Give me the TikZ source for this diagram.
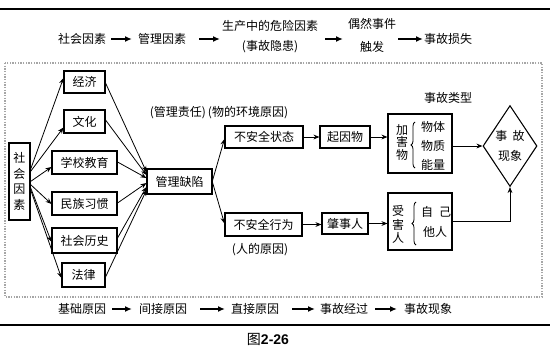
\documentclass[tikz,border=0pt]{standalone}
\usepackage{fontspec}
\setmainfont{Noto Sans CJK SC}
\newfontfamily\capfont{Liberation Sans}
\usetikzlibrary{arrows.meta,calc,shapes.geometric,decorations.pathreplacing}
\newlength\upx
\setlength\upx{0.75pt}
\begin{document}
\begin{tikzpicture}[x=0.75pt,y=-0.75pt,
  every node/.style={inner sep=0pt, font=\fontsize{9}{11}\selectfont},
  box/.style={draw, line width=0.8pt, align=center},
  arr/.style={-{Stealth[length=4.5pt,width=3.6pt]}, line width=0.6pt},
  flow/.style={-{Latex[length=5pt,width=4.5pt]}, line width=0.9pt},
  rule/.style={line width=0.8pt},
  brc/.style={decorate, decoration={brace, amplitude=3pt}, line width=0.6pt}]
\useasboundingbox (0,0) rectangle (550,350);
% rules and frame
\draw[rule] (0,9) -- (550,9);
\draw[rule] (0,325) -- (550,325);
\draw[gray!70, densely dotted, line width=1pt] (5,63) rectangle (542,297);
% top row
\node (t1) at (82,39) {社会因素};
\node (t2) at (162,39) {管理因素};
\node[align=center, font=\fontsize{9}{15}\selectfont] (t3) at (270,37) {生产中的危险因素\\(事故隐患)};
\node[align=center, font=\fontsize{9}{17}\selectfont] (t4) at (372,35.5) {偶然事件\\触发};
\node (t5) at (448,39) {事故损失};
\draw[flow] ($(t1.east)+(5,0)$) -- ($(t2.west)+(-6,0)$);
\draw[flow] ($(t2.east)+(13,0)$) -- ($(t2.east -| t3.west)+(-2,0)$);
\draw[flow] ($(t2.east -| t3.east)+(7,0)$) -- ($(t2.east -| t4.west)+(-5,0)$);
\draw[flow] ($(t2.east -| t4.east)+(2,0)$) -- ($(t5.west)+(-1,0)$);
% bottom row
\node (b1) at (82,309) {基础原因};
\node (b2) at (163,309) {间接原因};
\node (b3) at (255,309) {直接原因};
\node (b4) at (344,309) {事故经过};
\node (b5) at (428,309) {事故现象};
\draw[flow] ($(b1.east)+(6,0)$) -- ($(b2.west)+(-7,0)$);
\draw[flow] ($(b2.east)+(13,0)$) -- ($(b3.west)+(-6,0)$);
\draw[flow] ($(b3.east)+(13,0)$) -- ($(b4.west)+(-5,0)$);
\draw[flow] ($(b4.east)+(7,0)$) -- ($(b5.west)+(-7,0)$);
% caption
\node[font=\fontsize{10.5}{12}\selectfont] (cap) at (268,339) {图{\capfont\bfseries 2-26}};
% left boxes
\node[box, minimum width=21\upx, minimum height=77\upx, font=\fontsize{9}{11.6}\selectfont] (sh) at (19.5,181.5) {社\\会\\因\\素};
\node[box, minimum width=41\upx, minimum height=22\upx] (jj) at (84.5,82) {经济};
\node[box, minimum width=41\upx, minimum height=23\upx] (wh) at (84.5,121.5) {文化};
\node[box, minimum width=65\upx, minimum height=23\upx] (xx) at (84.5,162.5) {学校教育};
\node[box, minimum width=65\upx, minimum height=23\upx] (mz) at (84.5,203.5) {民族习惯};
\node[box, minimum width=65\upx, minimum height=25\upx] (ls) at (84.5,240.5) {社会历史};
\node[box, minimum width=43\upx, minimum height=24\upx] (fl) at (83.5,275) {法律};
\node[box, minimum width=65\upx, minimum height=25\upx] (gl) at (179.5,181.5) {管理缺陷};
% arrows from 社会因素
\draw[arr] ($(sh.east)+(0,-12)$) -- ($(jj.west)+(0,-4)$);
\draw[arr] ($(sh.east)+(0,-10)$) -- ($(wh.west)+(0,6)$);
\draw[arr] ($(sh.east)+(0,0)$) -- ($(xx.west)+(0,4.5)$);
\draw[arr] ($(sh.east)+(0,3)$) -- ($(mz.west)+(0,0.5)$);
\draw[arr] ($(sh.east)+(0,6)$) -- ($(ls.west)+(0,1.5)$);
\draw[arr] ($(sh.east)+(0,8)$) -- ($(fl.west)+(0,3)$);
% arrows into 管理缺陷
\draw[arr] ($(jj.east)+(0,1)$) -- ($(gl.west)+(0,-9.5)$);
\draw[arr] ($(wh.east)+(0,-1.5)$) -- ($(gl.west)+(0,-6.5)$);
\draw[arr] ($(xx.east)+(0,-0.5)$) -- ($(gl.west)+(0,-3.5)$);
\draw[arr] ($(mz.east)+(0,-0.5)$) -- ($(gl.west)+(0,1.5)$);
\draw[arr] ($(ls.east)+(0,-2.5)$) -- ($(gl.west)+(0,5.5)$);
\draw[arr] ($(fl.east)+(0,2)$) -- ($(gl.west)+(0,8.5)$);
% labels
\node (lb1) at (219,113) {(管理责任)\,(物的环境原因)};
\node (lb2) at (260,250) {(人的原因)};
\node (lb3) at (448,98) {事故类型};
% right part
\node[box, minimum width=78\upx, minimum height=22\upx] (bz) at (264,137) {不安全状态};
\node[box, minimum width=50\upx, minimum height=22\upx] (qy) at (345,137) {起因物};
\node[box, minimum width=64\upx, minimum height=59\upx] (jh) at (420,143.5) {};
\node[box, minimum width=77\upx, minimum height=23\upx] (bx) at (263.5,224.5) {不安全行为};
\node[box, minimum width=46\upx, minimum height=21\upx] (zs) at (345,223.5) {肇事人};
\node[box, minimum width=64\upx, minimum height=57\upx] (shr) at (420,221.5) {};
\node[diamond, draw, line width=0.8pt, shape aspect=0.67, minimum width=54\upx, minimum height=81\upx, align=center, font=\fontsize{9}{15}\selectfont] (dm) at (510,146) {事\hspace{4pt}故\\现象};
% inside 加害物
\node[align=center, font=\fontsize{9}{9.6}\selectfont] (jhl) at (402,142.5) {加\\害\\物};
\draw[brc] (415,168) -- (415,122);
\node[align=left, font=\fontsize{9}{14.3}\selectfont] (jhr) at (433,146) {物体\\物质\\能量};
% inside 受害人
\node[align=center, font=\fontsize{9}{10.2}\selectfont] (shl) at (398,224.5) {受\\害\\人};
\draw[brc] (416,245) -- (416,202);
\node (shr1) at (436,212) {自\hspace{4.5pt}己};
\node (shr2) at (435,232) {他人};
% connectors right part
\draw[arr] ($(gl.east)+(0,-1)$) -- ($(bz.west)+(0,2)$);
\draw[arr] ($(gl.east)+(0,1)$) -- ($(bx.west)+(0,-1)$);
\draw[arr] (bz.east) -- (bz.east -| qy.west);
\draw[arr] (qy.east) -- (qy.east -| jh.west);
\draw[arr] (dm.west -| jh.east) -- (dm.west);
\draw[arr] (bx.east) -- (bx.east -| zs.west);
\draw[arr] (zs.east) -- (zs.east -| shr.west);
\draw[arr] (shr.east) -- (shr.east -| dm.south) -- (dm.south);
\end{tikzpicture}
\end{document}
